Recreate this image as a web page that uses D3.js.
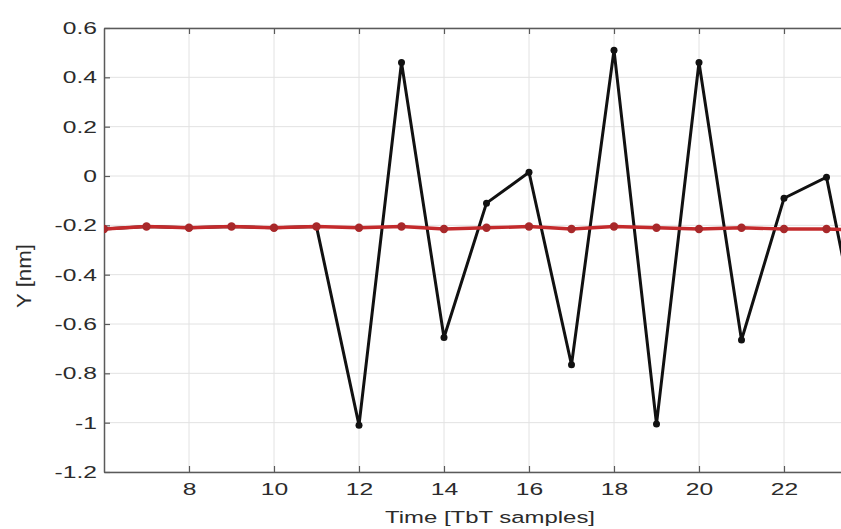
<html>
<head>
<script src="https://cdn.jsdelivr.net/npm/d3@7/dist/d3.min.js" charset="utf-8"></script>
<style>
  body { margin: 0; background: #fff; }
  text { font-family: "Liberation Sans", Arial, sans-serif; fill: #2b2b2b; }
</style>
</head>
<body>
<svg id="chart" width="841" height="529"></svg>
<script>
// samples (TbT turn number)
var samples = [6, 7, 8, 9, 10, 11, 12, 13, 14, 15, 16, 17, 18, 19, 20, 21, 22, 23, 24];
// measured Y (black)
var yMeas = [-0.215, -0.205, -0.21, -0.205, -0.21, -0.205, -1.01, 0.46, -0.655, -0.11, 0.015, -0.765, 0.51, -1.005, 0.46, -0.665, -0.09, -0.005, -0.86];
// reference Y (red)
var yRef = [-0.215, -0.205, -0.21, -0.205, -0.21, -0.205, -0.21, -0.205, -0.215, -0.21, -0.205, -0.215, -0.205, -0.21, -0.215, -0.21, -0.215, -0.215, -0.22];

var xTicks = [8, 10, 12, 14, 16, 18, 20, 22];
var yTicks = [0.6, 0.4, 0.2, 0, -0.2, -0.4, -0.6, -0.8, -1, -1.2];

var pLeft = 104, pTop = 28, pRight = 869, pBottom = 472;
var sx = 1.45; // picture is stretched sideways

var svg = d3.select("#chart");

var x = d3.scaleLinear().domain([6, 24]).range([pLeft, pRight]);
var y = d3.scaleLinear().domain([-1.2, 0.6]).range([pBottom, pTop]);

svg.append("clipPath").attr("id", "clip")
  .append("rect").attr("x", pLeft).attr("y", pTop)
  .attr("width", pRight - pLeft).attr("height", pBottom - pTop);

// grid
svg.selectAll(".gv").data(xTicks).enter()
  .append("line").attr("class", "gv")
  .attr("x1", function(d){return x(d);}).attr("x2", function(d){return x(d);})
  .attr("y1", pTop).attr("y2", pBottom)
  .attr("stroke", "#e2e2e2").attr("stroke-width", 1);
svg.selectAll(".gh").data(yTicks).enter()
  .append("line").attr("class", "gh")
  .attr("x1", pLeft).attr("x2", pRight)
  .attr("y1", function(d){return y(d);}).attr("y2", function(d){return y(d);})
  .attr("stroke", "#e2e2e2").attr("stroke-width", 1);

// axes
var xa = svg.append("g").attr("transform", "translate(0," + pBottom + ")")
  .call(d3.axisBottom(x).tickValues(xTicks).tickSizeInner(-6).tickSizeOuter(0).tickPadding(11)
        .tickFormat(d3.format("d")));
var xt = svg.append("g").attr("transform", "translate(0," + pTop + ")")
  .call(d3.axisTop(x).tickValues(xTicks).tickSizeInner(-6).tickSizeOuter(0).tickFormat(""));
var ya = svg.append("g").attr("transform", "translate(" + pLeft + ",0)")
  .call(d3.axisLeft(y).tickValues(yTicks).tickSizeInner(-6).tickSizeOuter(0)
        .tickFormat(function(d){ return String(+d.toFixed(1)); }));

[xa, xt, ya].forEach(function(g) {
  g.select(".domain").attr("stroke", "#5a5a5a").attr("stroke-width", 1.5);
  g.selectAll(".tick line").attr("stroke", "#5a5a5a").attr("stroke-width", 1.2);
  g.selectAll("text").attr("font-size", 17).attr("fill", "#2b2b2b")
    .attr("font-family", "Liberation Sans, Arial, sans-serif");
});
xa.selectAll(".tick text").attr("transform", "scale(" + sx + ",1)");
ya.selectAll(".tick text").attr("x", -7 / sx).attr("transform", "scale(" + sx + ",1)");

// series
var line = d3.line().x(function(d){return x(d[0]);}).y(function(d){return y(d[1]);});
var plot = svg.append("g").attr("clip-path", "url(#clip)");
var meas = d3.zip(samples, yMeas), ref = d3.zip(samples, yRef);

plot.append("path").datum(meas).attr("d", line)
  .attr("fill", "none").attr("stroke", "#111").attr("stroke-width", 3)
  .attr("stroke-linejoin", "miter");
plot.selectAll(".mb").data(meas).enter().append("circle").attr("class", "mb")
  .attr("cx", function(d){return x(d[0]);}).attr("cy", function(d){return y(d[1]);})
  .attr("r", 3.5).attr("fill", "#111");

plot.append("path").datum(ref).attr("d", line)
  .attr("fill", "none").attr("stroke", "#c42a2c").attr("stroke-width", 3.4);
plot.selectAll(".mr").data(ref).enter().append("circle").attr("class", "mr")
  .attr("cx", function(d){return x(d[0]);}).attr("cy", function(d){return y(d[1]);})
  .attr("r", 4.2).attr("fill", "#a8282a");

// labels
svg.append("text").attr("transform", "translate(490,523) scale(" + sx + ",1)")
  .attr("text-anchor", "middle").attr("font-size", 16.5).text("Time [TbT samples]");
svg.append("text").attr("transform", "translate(31,276) rotate(-90) scale(1.35,1.2)")
  .attr("text-anchor", "middle").attr("font-size", 16.5).text("Y [nm]");
</script>
</body>
</html>
